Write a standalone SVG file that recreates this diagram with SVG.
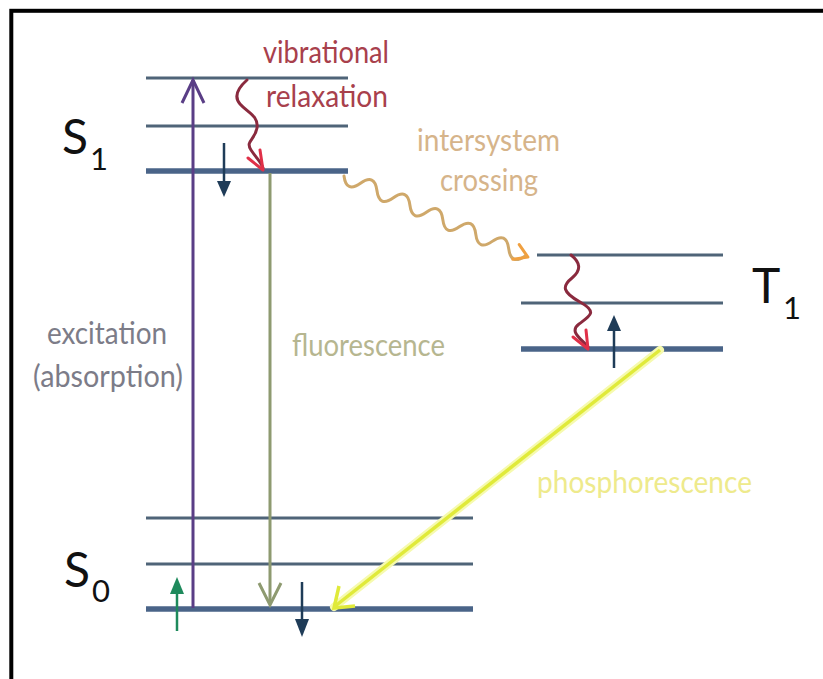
<svg xmlns="http://www.w3.org/2000/svg" width="823" height="679" viewBox="0 0 823 679">
<style>
.lvl{stroke:#4f6478;stroke-width:3;stroke-linecap:butt}
.lvlb{stroke:#4a6488;stroke-width:5.5;stroke-linecap:butt}
.lbl{font-family:Lato,"Liberation Sans",sans-serif;font-size:30px}
.big{font-family:Lato,"Liberation Sans",sans-serif;fill:#111}
.wig{fill:none;stroke-linecap:round;stroke-linejoin:round}
</style>
<rect x="0" y="0" width="823" height="679" fill="#fff"/>
<rect x="11.3" y="10.8" width="830" height="700" fill="none" stroke="#000" stroke-width="4"/>

<g id="S1">
  <line class="lvl" x1="146" y1="78" x2="348" y2="78"/>
  <line class="lvl" x1="146" y1="126" x2="348" y2="126"/>
  <line class="lvlb" x1="146" y1="171" x2="348" y2="171"/>
  <text class="big" x="62" y="154" font-size="48">S</text>
  <text class="big" x="90" y="170" font-size="31">1</text>
</g>
<g id="T1">
  <line class="lvl" x1="537" y1="255" x2="723" y2="255"/>
  <line class="lvl" x1="521" y1="303" x2="723" y2="303"/>
  <line class="lvlb" x1="521" y1="349" x2="723" y2="349"/>
  <text class="big" x="752" y="303" font-size="48">T</text>
  <text class="big" x="783" y="319" font-size="31">1</text>
</g>
<g id="S0">
  <line class="lvl" x1="146" y1="518" x2="473" y2="518"/>
  <line class="lvl" x1="146" y1="564" x2="473" y2="564"/>
  <line class="lvlb" x1="146" y1="609" x2="473" y2="609"/>
  <text class="big" x="64" y="587" font-size="48">S</text>
  <text class="big" x="92" y="602" font-size="31">0</text>
</g>

<g id="connectors">
  <g id="excitation">
    <line x1="193" y1="608" x2="193" y2="80" stroke="#5a3e86" stroke-width="3"/>
    <polyline points="182,103 193,80 204,103" fill="none" stroke="#5a3e86" stroke-width="3"/>
  </g>
  <g id="fluorescence">
    <line x1="270" y1="173" x2="270" y2="604" stroke="#8e9a70" stroke-width="3"/>
    <polyline points="259,583 270,605 281,583" fill="none" stroke="#8e9a70" stroke-width="3"/>
  </g>
  <g id="vr-s1">
    <path class="wig" d="M247 80 C238 88 233 96 240 104 S259 116 257 128 S245 141 251 150 S261 162 263 168" stroke="#8a2a3e" stroke-width="3"/>
    <polyline class="wig" points="248,158 263,170 260,150" stroke="#e03048" stroke-width="3"/>
  </g>
  <g id="vr-t1">
    <path class="wig" d="M571 255 C580 262 582 270 572 278 S562 292 580 302 S590 316 579 324 S583 340 588 347" stroke="#8a2a3e" stroke-width="3"/>
    <polyline class="wig" points="573,337 588,349 586,330" stroke="#e03048" stroke-width="3"/>
  </g>
  <g id="isc" transform="translate(344,176) rotate(23.8)">
    <path class="wig" d="M0 0 Q9 15 18 0 T36 0 T54 0 T72 0 T90 0 T108 0 T126 0 T144 0 T162 0 T180 0 T198 0" stroke="#cfa86a" stroke-width="3"/>
    <polyline class="wig" points="188,-8 201,0 188,8" stroke="#f0a040" stroke-width="3"/>
  </g>
  <g id="phosphorescence">
    <line x1="660" y1="350" x2="334" y2="607" stroke="#f6faae" stroke-width="8" stroke-linecap="round"/>
    <line x1="660" y1="350" x2="334" y2="607" stroke="#e0ea3a" stroke-width="3.5"/>
    <polyline points="355,606 334,608 339,586" fill="none" stroke="#e0ea3a" stroke-width="3.5"/>
  </g>
  <g id="vib-s1-down">
    <line x1="224" y1="143" x2="224" y2="184" stroke="#1f3c58" stroke-width="2.5"/>
    <polygon points="217,181 231,181 224,197" fill="#1f3c58"/>
  </g>
  <g id="vib-t1-up">
    <line x1="614" y1="368" x2="614" y2="328" stroke="#1f3c58" stroke-width="2.5"/>
    <polygon points="607,331 621,331 614,315" fill="#1f3c58"/>
  </g>
  <g id="vib-s0-up">
    <line x1="177" y1="631" x2="177" y2="590" stroke="#1e8a5c" stroke-width="2.5"/>
    <polygon points="170,594 184,594 177,577" fill="#1e8a5c"/>
  </g>
  <g id="vib-s0-down">
    <line x1="302" y1="582" x2="302" y2="622" stroke="#1f3c58" stroke-width="2.5"/>
    <polygon points="295,619 309,619 302,637" fill="#1f3c58"/>
  </g>
</g>

<g id="labels">
  <text class="lbl" x="263" y="63" fill="#a8404c" textLength="126" lengthAdjust="spacingAndGlyphs">vibrational</text>
  <text class="lbl" x="266" y="107" fill="#a8404c" textLength="122" lengthAdjust="spacingAndGlyphs">relaxation</text>
  <text class="lbl" x="417" y="151" fill="#d6b48a" textLength="143" lengthAdjust="spacingAndGlyphs">intersystem</text>
  <text class="lbl" x="440" y="191" fill="#d6b48a" textLength="98" lengthAdjust="spacingAndGlyphs">crossing</text>
  <text class="lbl" x="47" y="344" fill="#7c7c88" textLength="120" lengthAdjust="spacingAndGlyphs">excitation</text>
  <text class="lbl" x="33" y="387" fill="#7c7c88" textLength="150" lengthAdjust="spacingAndGlyphs">(absorption)</text>
  <text class="lbl" x="292" y="356" fill="#b6b690" textLength="153" lengthAdjust="spacingAndGlyphs">fluorescence</text>
  <text class="lbl" x="537" y="493" fill="#eeea8c" textLength="215" lengthAdjust="spacingAndGlyphs">phosphorescence</text>
</g>
</svg>
